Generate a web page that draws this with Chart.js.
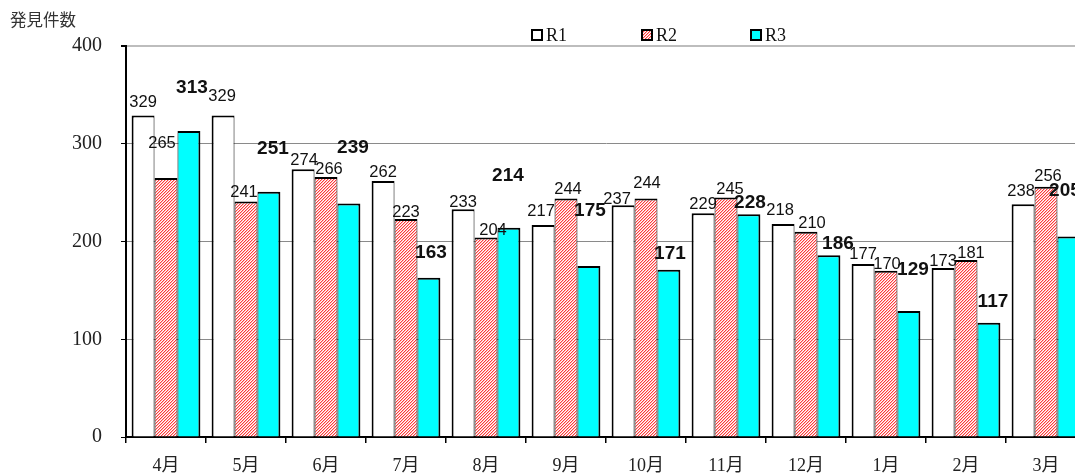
<!DOCTYPE html>
<html>
<head>
<meta charset="utf-8">
<script src="https://cdn.jsdelivr.net/npm/chart.js@4"></script>
<style>
  html, body { margin: 0; padding: 0; background: #fff; overflow: hidden; }
  #wrap { position: relative; width: 1075px; height: 473px; overflow: hidden; }
  canvas { display: block; }
</style>
</head>
<body>
<div id="wrap"><canvas id="c" width="1090" height="473"></canvas></div>
<script>
// ---- data ----
const categories = ['4月','5月','6月','7月','8月','9月','10月','11月','12月','1月','2月','3月'];
const seriesNames = ['R1','R2','R3'];
const r1 = [329,329,274,262,233,217,237,229,218,177,173,238];
const r2 = [265,241,266,223,204,244,244,245,210,170,181,256];
const r3 = [313,251,239,163,214,175,171,228,186,129,117,205];
const yTicks = [0,100,200,300,400];
const yTitle = '発見件数';

// ---- label placement (px nudges, as hand-placed in the original) ----
const labelLift = [
  [13,19,9,8,7,13,6,9,13,10,6,13],
  [35,9,8,7,7,9,15,8,8,6,7,10],
  [43,43,56,25,52,55,16,11,11,41,21,46]
];
const labelShift = [
  [0,-1,1,0,0,-2,-6,0,-3,0,0,-2],
  [-4,-2,3,0,7,2,1,4,6,1,5,2],
  [3,4,4,2,-1,1,1,1,9,4,4,-4]
];

const canvas = document.getElementById('c');
const ctx = canvas.getContext('2d');

function makeHatch() {
  const n = 3;
  const t = document.createElement('canvas');
  t.width = n; t.height = n;
  const g = t.getContext('2d');
  g.fillStyle = '#ffffff'; g.fillRect(0, 0, n, n);
  for (let y = 0; y < n; y++) {
    g.fillStyle = '#ff3a3a';
    g.fillRect((n - 1 - y + n) % n, y, 1, 1);
    g.fillStyle = '#ffb4b4';
    g.fillRect((n - y + n) % n, y, 1, 1);
  }
  return ctx.createPattern(t, 'repeat');
}
const hatch = makeHatch();
const fills = ['#ffffff', hatch, '#00ffff'];
const seriesData = [r1, r2, r3];
const sideBorders = [
  { top: 2, left: 2, right: 1, bottom: 0 },
  { top: 2, left: 1, right: 1, bottom: 0 },
  { top: 2, left: 1, right: 2, bottom: 0 }
];

const serifCJK = "'Liberation Serif', 'Noto Sans CJK JP', serif";
const sansFont = "'Liberation Sans', Arial, sans-serif";

const labelPlugin = {
  id: 'barLabels',
  afterDatasetsDraw(chart) {
    const c = chart.ctx;
    c.save();
    c.textAlign = 'center';
    c.textBaseline = 'middle';
    chart.data.datasets.forEach((ds, i) => {
      const meta = chart.getDatasetMeta(i);
      c.font = i === 2 ? 'bold 19px ' + sansFont : '16.5px ' + sansFont;
      c.fillStyle = '#111';
      meta.data.forEach((el, j) => {
        c.fillText(String(ds.data[j]), el.x + labelShift[i][j], el.y - labelLift[i][j]);
      });
    });
    c.restore();
  }
};

const decoPlugin = {
  id: 'deco',
  afterDraw(chart) {
    const c = chart.ctx;
    c.save();
    // axis title
    c.font = "16.5px 'Noto Sans CJK JP', sans-serif";
    c.fillStyle = '#333';
    c.textAlign = 'left';
    c.textBaseline = 'middle';
    c.fillText(yTitle, 10, 20);
    // legend
    const xs = [532, 642, 751];
    c.font = '18px ' + serifCJK;
    chart.data.datasets.forEach((ds, i) => {
      const x = xs[i];
      c.fillStyle = ds.backgroundColor;
      c.fillRect(x, 30, 10, 10);
      c.lineWidth = 2;
      c.strokeStyle = '#000';
      c.strokeRect(x, 30, 10, 10);
      c.fillStyle = '#111';
      c.textAlign = 'left';
      c.textBaseline = 'middle';
      c.fillText(ds.label, x + 14, 36);
    });
    c.restore();
  }
};

new Chart(canvas, {
  type: 'bar',
  data: {
    labels: categories,
    datasets: seriesNames.map((name, i) => ({
      label: name,
      data: seriesData[i],
      backgroundColor: fills[i],
      borderColor: '#000',
      borderWidth: sideBorders[i],
      borderSkipped: false,
      categoryPercentage: 0.86,
      barPercentage: 1.0
    }))
  },
  options: {
    responsive: false,
    animation: false,
    devicePixelRatio: 1,
    layout: { padding: { left: 0, top: 46, right: 4, bottom: 0 } },
    plugins: {
      legend: { display: false },
      tooltip: { enabled: false },
      title: { display: false }
    },
    scales: {
      x: {
        grid: {
          display: true,
          drawOnChartArea: false,
          drawTicks: true,
          tickLength: 6,
          offset: true,
          color: '#000',
          tickColor: '#000',
          lineWidth: 1.5
        },
        border: { display: true, color: '#000', width: 2 },
        ticks: {
          font: { family: serifCJK, size: 18 },
          color: '#222',
          padding: 12,
          maxRotation: 0,
          autoSkip: false
        },
        afterFit(scale) { scale.height = 36; }
      },
      y: {
        min: 0,
        max: 400,
        afterBuildTicks(scale) { scale.ticks = yTicks.map(v => ({ value: v })); },
        grid: {
          color: (c) => (c.tick && c.tick.value === 400) ? '#bdbdbd' : '#8a8a8a',
          lineWidth: (c) => (c.tick && c.tick.value === 400) ? 2 : 1,
          tickColor: '#000',
          tickLength: 5,
          drawTicks: true
        },
        border: { display: true, color: '#000', width: 2 },
        ticks: {
          font: { family: serifCJK, size: 20 },
          color: '#222',
          padding: 19
        },
        afterFit(scale) { scale.width = 126; }
      }
    }
  },
  plugins: [labelPlugin, decoPlugin]
});
</script>
</body>
</html>
